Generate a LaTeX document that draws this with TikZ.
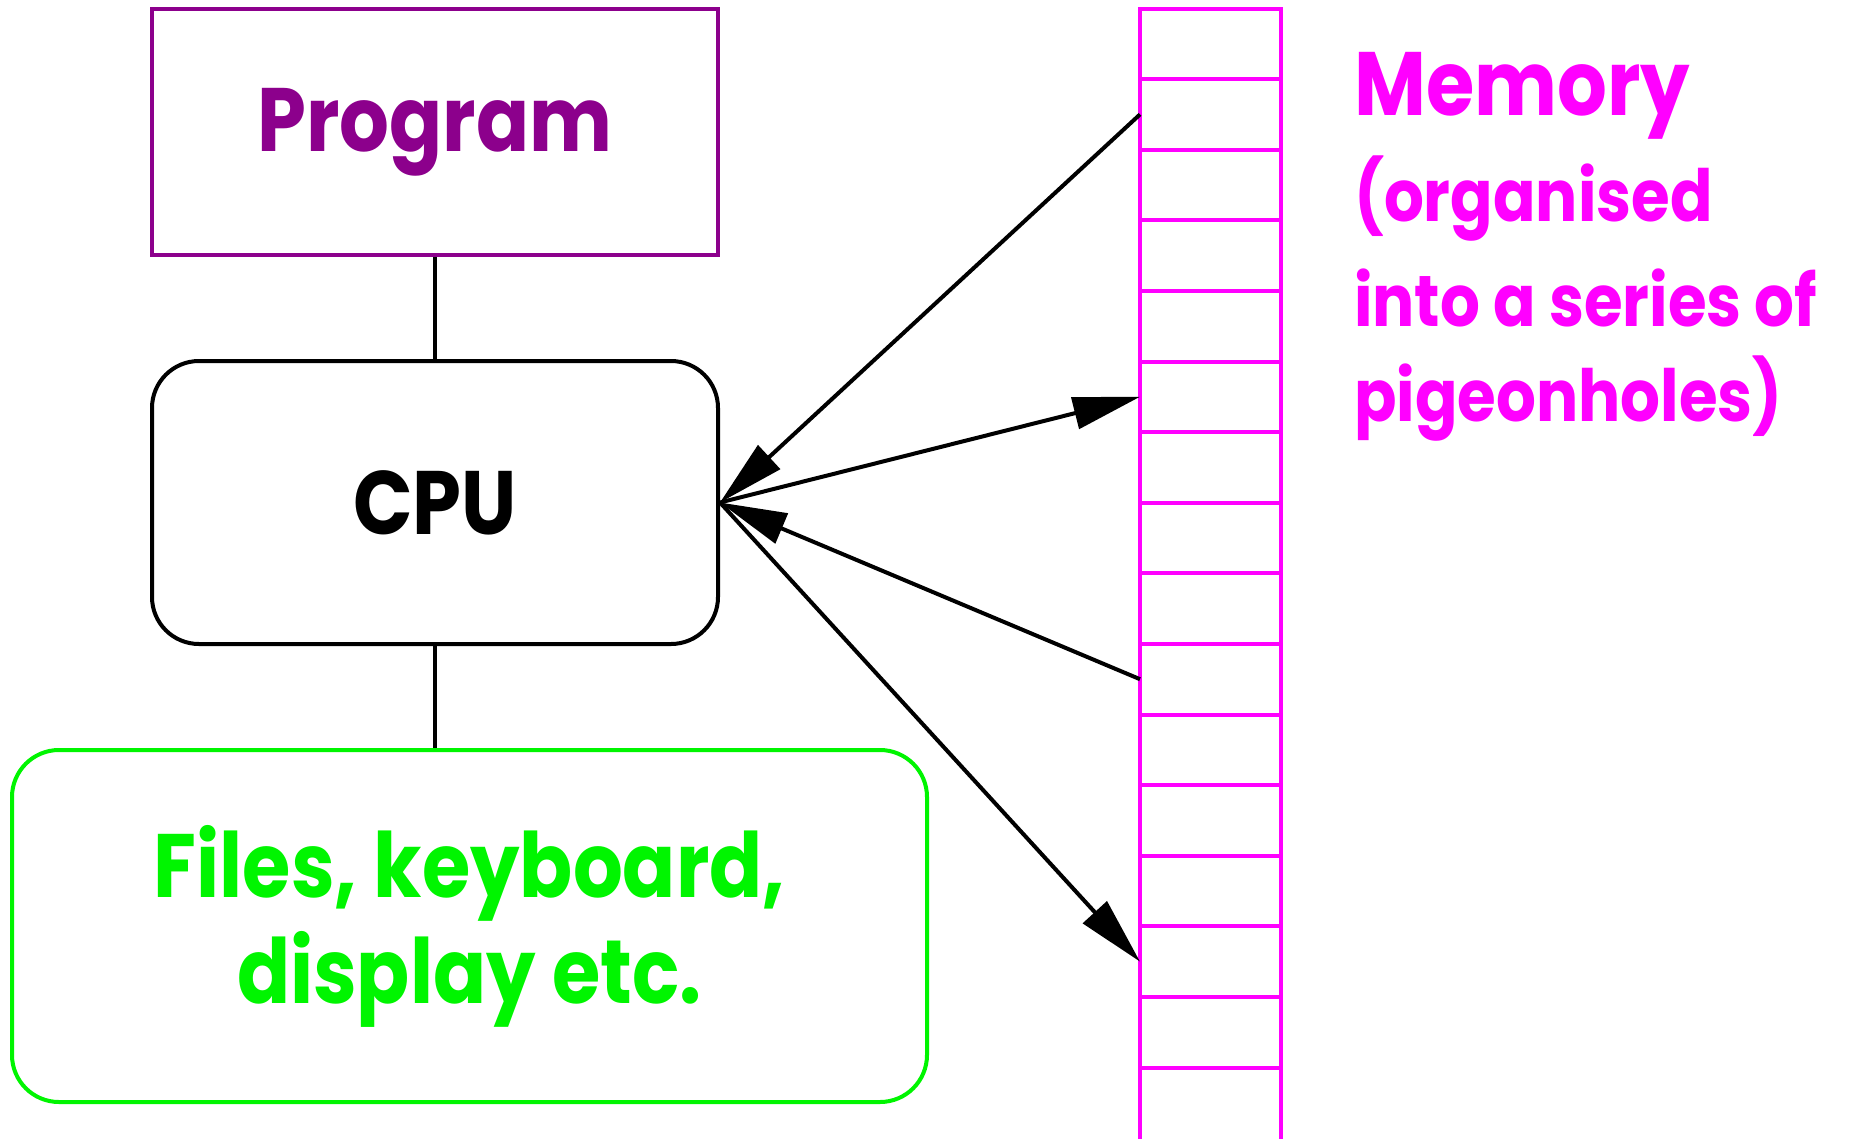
\documentclass[tikz,border=0pt]{standalone}
\usepackage{fontspec}
\setmainfont{Poppins}[FakeStretch=0.87]
\usepackage{xcolor}
\usepackage{tikz}
\usetikzlibrary{positioning, arrows.meta}
\definecolor{progpurple}{RGB}{140,0,140}
\definecolor{iogreen}{RGB}{0,245,0}
\definecolor{memmagenta}{RGB}{255,0,255}

\begin{document}
\begin{tikzpicture}[
    x=1pt, y=-1pt,
    box/.style={rectangle, draw, line width=4pt, minimum width=566pt, font=\fontsize{90}{106}\selectfont\bfseries, align=center},
    progbox/.style={box, draw=progpurple, text=progpurple, minimum height=246pt},
    cpubox/.style={box, draw=black, rounded corners=47pt, minimum height=283pt},
    iobox/.style={box, draw=iogreen, text=iogreen, rounded corners=47pt, minimum width=915pt, minimum height=352pt},
    memhead/.style={anchor=base west, inner sep=0pt, text=memmagenta, font=\fontsize{90}{106}\selectfont\bfseries},
    memnote/.style={memhead, font=\fontsize{72}{100}\selectfont\bfseries},
    memline/.style={draw=memmagenta, line width=4pt},
    link/.style={line width=4pt, black},
    arrow/.style={link, -{Triangle[length=67pt, width=32pt]}},
]
\useasboundingbox (0,0) rectangle (1863,1138);
% Program
\node[progbox] (prog) at (435,132) {Program};
% CPU
\node[cpubox, below=102pt of prog] (cpu) {CPU};
% Files etc.
\node[iobox] (io) at (469.5,926) {Files, keyboard,\\display etc.};

\draw[link] (prog) -- (cpu);
\draw[link] (cpu.south) -- (cpu.south |- io.north);

% Memory column
\draw[memline] (1140,1150) -- (1140,8.5) -- (1281,8.5) -- (1281,1150);
\foreach \k in {0,...,15} {
  \draw[memline] (1140,8.5+70.6*\k) -- (1281,8.5+70.6*\k);
  \coordinate (slot\k) at (1140,43.8+70.6*\k);
}

% Memory label
\node[memhead] (memlbl) at (1354,115) {Memory};
\node[memnote] (note1) at ([yshift=-106pt]memlbl.base west) {(organised};
\node[memnote] (note2) at ([yshift=-105pt]note1.base west) {into a series of};
\node[memnote] (note3) at ([yshift=-95pt]note2.base west) {pigeonholes)};

\draw[arrow] (slot1) -- (cpu.east);
\draw[arrow] (cpu.east) -- (slot5);
\draw[arrow] (slot9) -- (cpu.east);
\draw[arrow] (cpu.east) -- (slot13);
\end{tikzpicture}
\end{document}
